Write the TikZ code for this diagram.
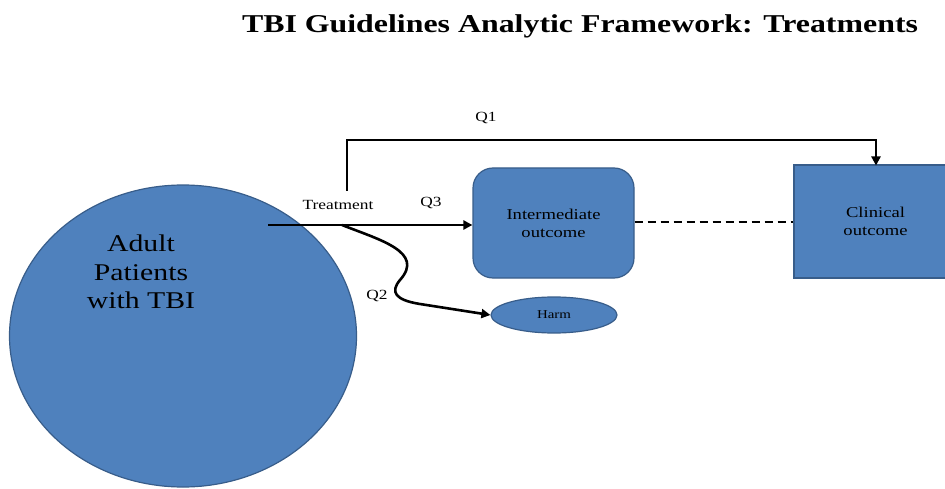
\documentclass[tikz,border=0pt]{standalone}
\usepackage{fontspec}
\setmainfont{Liberation Serif}[FakeStretch=1.24]
\usetikzlibrary{shapes.geometric,arrows.meta}
\definecolor{boxfill}{RGB}{79,129,189}
\definecolor{boxline}{RGB}{56,93,138}
\tikzset{
  blue shape/.style={fill=boxfill, draw=boxline, line width=1.2pt},
  conn/.style={line width=2.6pt, draw=black},
  arr/.style={conn, -{Triangle[length=9pt,width=9pt]}},
  lbl/.style={font=\fontsize{14}{16}\selectfont, inner sep=0pt},
}
\begin{document}
\begin{tikzpicture}[x=1pt,y=-1pt]
\useasboundingbox (0,0) rectangle (945,489);
% title
\node[font=\fontsize{25.7}{30}\selectfont\bfseries, inner sep=0pt] (title) at (580,26) {TBI Guidelines Analytic Framework: Treatments};
% population
\node[blue shape, ellipse, minimum width=347pt, minimum height=302pt, inner sep=0pt] (pat) at (183,336) {};
\node[align=center, font=\fontsize{24}{28.5}\selectfont, inner sep=0pt] (patlbl) at (141,272) {Adult\\Patients\\with TBI};
% outcomes
\node[blue shape, rounded corners=20pt, minimum width=161pt, minimum height=110pt, inner sep=0pt, align=center, font=\fontsize{15}{18}\selectfont] (int) at (553.5,223) {Intermediate\\outcome};
\node[blue shape, minimum width=152pt, minimum height=113pt, inner sep=0pt, align=center, font=\fontsize{15}{18}\selectfont] (clin) at (870,221.5) {\hspace*{11pt}Clinical\\\hspace*{11pt}outcome};
\node[blue shape, ellipse, minimum width=126pt, minimum height=36pt, inner sep=0pt, font=\fontsize{12}{14}\selectfont] (harm) at (554,315) {Harm};
% treatment label
\node[font=\fontsize{14}{16}\selectfont, inner sep=0pt] (treat) at (338,205) {Treatment};
% coordinates
\coordinate (src) at (268,225);
\coordinate (split) at (342,225);
\coordinate (q1start) at (347,191);
% connectors
\draw[arr] (src) -- (src -| int.west);
\draw[arr] (q1start) -- (347,140) -- (876,140) -- (876,165.5);
\draw[conn, dashed, dash pattern=on 8pt off 5pt] (int.east |- 0,222) -- (clin.west |- 0,222);
\draw[arr] (split) .. controls (380,240) and (425,252) .. (400,280)
  .. controls (390,292) and (395,300) .. (420,304) -- (harm.west);
% labels
\node[lbl] (q1) at (486,118) {Q1};
\node[lbl] (q3) at (431,203) {Q3};
\node[lbl] (q2) at (377,296) {Q2};
\end{tikzpicture}
\end{document}
